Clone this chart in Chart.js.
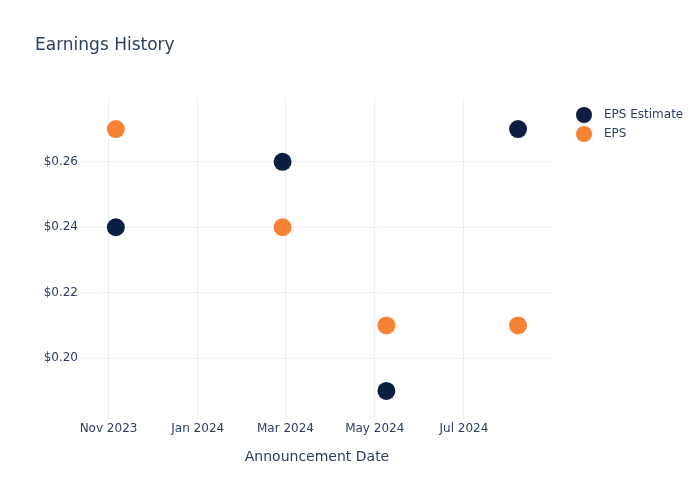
<!DOCTYPE html>
<html lang="en">
<head>
  <meta charset="UTF-8" />
  <title>Earnings History</title>
  <script src="https://cdn.jsdelivr.net/npm/chart.js"></script>
  <style>
    body {
      margin: 0;
      background: #fff;
      font-family: 'DejaVu Sans', 'Open Sans', sans-serif;
      color: #2a3f5f;
    }
    .wrap {
      position: relative;
      width: 700px;
      height: 500px;
    }
    canvas { position: absolute; left: 0; top: 0; }
    .title {
      position: absolute;
      left: 35px;
      top: 34px;
      font-size: 17px;
    }
    .legend {
      position: absolute;
      left: 576px;
      top: 105px;
      font-size: 12px;
    }
    .legend div {
      height: 19px;
      line-height: 19px;
      display: flex;
      align-items: center;
    }
    .legend span.dot {
      width: 16px;
      height: 16px;
      border-radius: 50%;
      display: inline-block;
      margin-right: 12px;
    }
  </style>
</head>
<body>
  <div class="wrap">
    <canvas id="earningsChart" width="700" height="500"></canvas>
    <div class="title">Earnings History</div>
    <div class="legend" id="legend"></div>
  </div>

  <script>
    // announcement dates (UTC)
    const dates = [
      Date.UTC(2023, 10, 6),
      Date.UTC(2024, 1, 28),
      Date.UTC(2024, 4, 9),
      Date.UTC(2024, 7, 7)
    ];
    const epsEstimate = [0.24, 0.26, 0.19, 0.27];
    const epsActual = [0.27, 0.24, 0.21, 0.21];

    const xTicks = [
      Date.UTC(2023, 10, 1),
      Date.UTC(2024, 0, 1),
      Date.UTC(2024, 2, 1),
      Date.UTC(2024, 4, 1),
      Date.UTC(2024, 6, 1)
    ];
    const yTicks = [0.20, 0.22, 0.24, 0.26];
    const monthNames = ['Jan', 'Feb', 'Mar', 'Apr', 'May', 'Jun', 'Jul', 'Aug', 'Sep', 'Oct', 'Nov', 'Dec'];

    const navy = '#0b1f42';
    const orange = '#f58235';
    const textColor = '#2a3f5f';
    const gridColor = '#ebf0f8';

    const series = [
      { label: 'EPS Estimate', values: epsEstimate, color: navy },
      { label: 'EPS', values: epsActual, color: orange }
    ];

    const legend = document.getElementById('legend');
    series.forEach(s => {
      const row = document.createElement('div');
      row.innerHTML = `<span class="dot" style="background:${s.color}"></span>${s.label}`;
      legend.appendChild(row);
    });

    Chart.defaults.font.family = "'DejaVu Sans', 'Open Sans', sans-serif";
    Chart.defaults.font.size = 12;
    Chart.defaults.color = textColor;

    new Chart(document.getElementById('earningsChart').getContext('2d'), {
      type: 'scatter',
      data: {
        datasets: series.map(s => ({
          label: s.label,
          data: dates.map((d, i) => ({ x: d, y: s.values[i] })),
          backgroundColor: s.color,
          borderColor: s.color,
          pointRadius: 9,
          pointHoverRadius: 9,
          borderWidth: 0
        }))
      },
      options: {
        responsive: false,
        animation: false,
        layout: { padding: { left: 0, top: 98, right: 146, bottom: 30 } },
        plugins: {
          legend: { display: false },
          tooltip: { enabled: false }
        },
        scales: {
          x: {
            type: 'linear',
            min: Date.UTC(2023, 9, 12, 12),
            max: Date.UTC(2024, 7, 31, 14),
            afterBuildTicks: axis => { axis.ticks = xTicks.map(v => ({ value: v })); },
            afterFit: axis => { axis.height = 50; },
            ticks: {
              padding: 2,
              maxRotation: 0,
              callback: v => {
                const d = new Date(v);
                return monthNames[d.getUTCMonth()] + ' ' + d.getUTCFullYear();
              }
            },
            grid: { color: gridColor, drawTicks: false },
            border: { display: false },
            title: {
              display: true,
              text: 'Announcement Date',
              font: { size: 14 },
              padding: { top: 8 }
            }
          },
          y: {
            min: 0.1811,
            max: 0.2795,
            afterBuildTicks: axis => { axis.ticks = yTicks.map(v => ({ value: v })); },
            afterFit: axis => { axis.width = 80; },
            ticks: {
              padding: 2,
              callback: v => '$' + v.toFixed(2)
            },
            grid: { color: gridColor, drawTicks: false },
            border: { display: false }
          }
        }
      }
    });
  </script>
</body>
</html>
